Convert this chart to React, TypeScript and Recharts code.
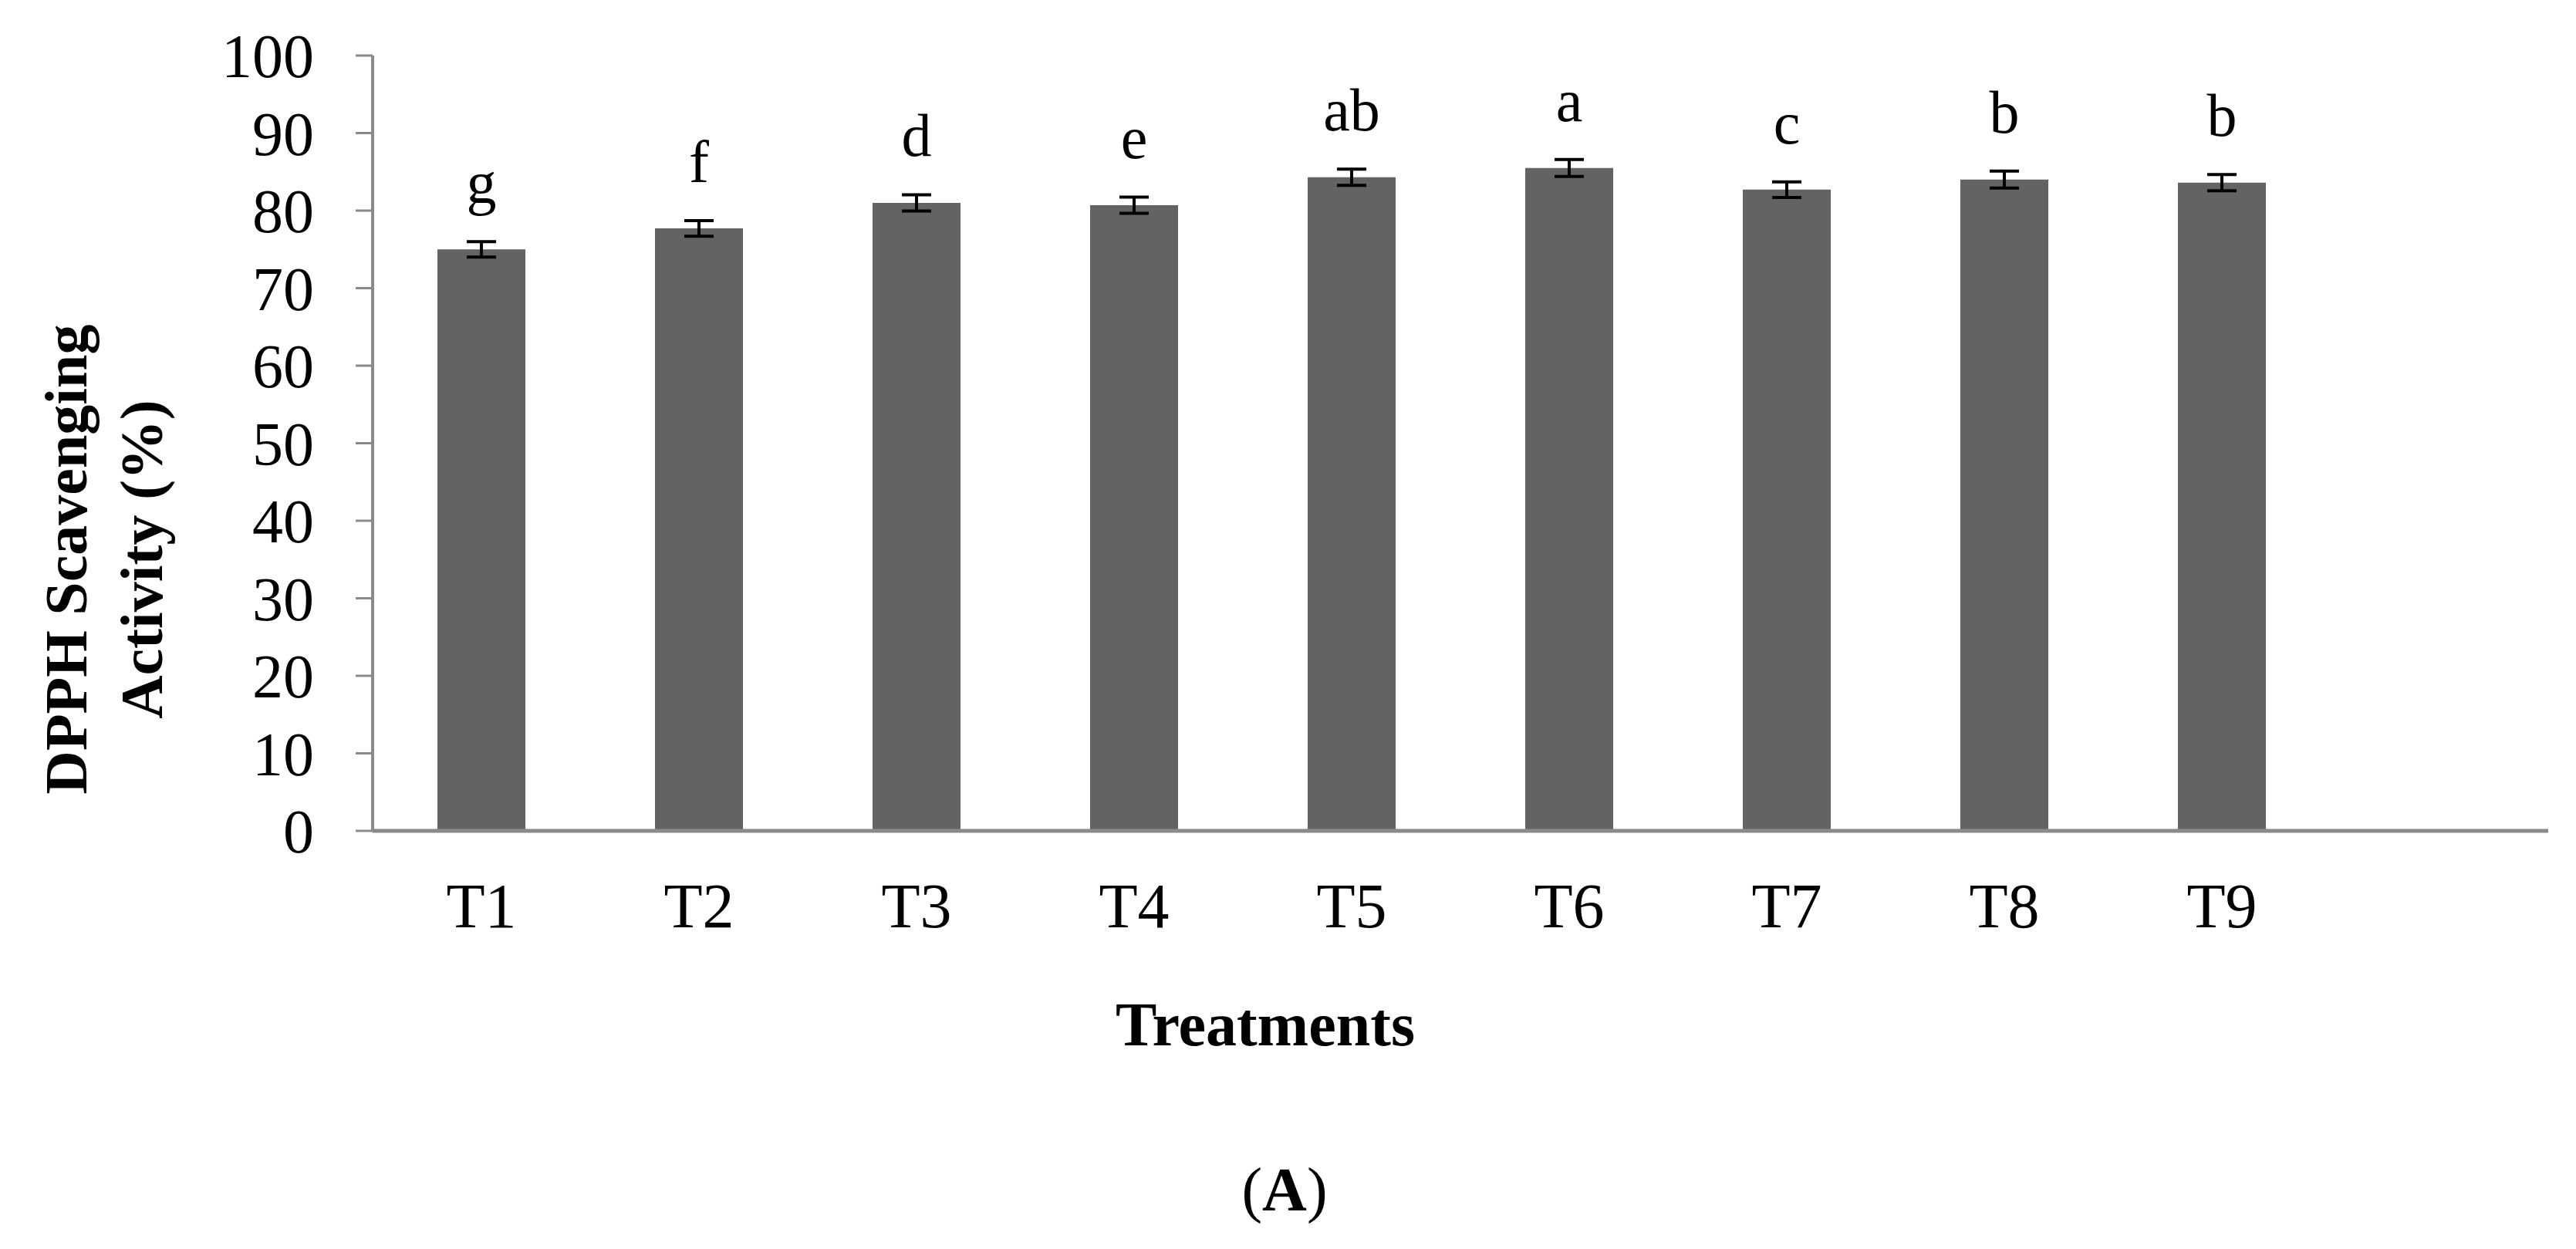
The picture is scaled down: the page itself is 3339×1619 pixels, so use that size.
import { Bar, BarChart, ErrorBar, LabelList, Label, XAxis, YAxis } from "recharts"

const treatments = ["T1", "T2", "T3", "T4", "T5", "T6", "T7", "T8", "T9"]
const activity = [75.0, 77.7, 81.0, 80.7, 84.3, 85.5, 82.7, 84.0, 83.6]
const stdError = [1.0, 1.0, 1.05, 1.05, 1.05, 1.1, 1.0, 1.1, 1.05]
const groupLetters = ["g", "f", "d", "e", "ab", "a", "c", "b", "b"]
const yTicks = [0, 10, 20, 30, 40, 50, 60, 70, 80, 90, 100]

const data = treatments.map((name, i) => ({
  name,
  activity: activity[i],
  err: stdError[i],
  letter: groupLetters[i],
}))

const FONT = '"Liberation Serif", "Times New Roman", serif'
const AXIS = "#8a8a8a"
const BAR = "#636363"

// letter sits a fixed gap above the top of the error bar
const LetterLabel = (props: any) => {
  const { x, y, width, height, value, index } = props
  const pxPerUnit = height / activity[index]
  const top = y - stdError[index] * pxPerUnit
  return (
    <text
      x={x + width / 2}
      y={top - 50}
      textAnchor="middle"
      fontFamily={FONT}
      fontSize={78}
      fill="#000"
    >
      {value}
    </text>
  )
}

const YTitle = () => (
  <g fontFamily={FONT} fontSize={78} fontWeight="bold" fill="#000">
    <text x={112} y={725} textAnchor="middle" transform="rotate(-90, 112, 725)">
      DPPH Scavenging
    </text>
    <text x={210} y={725} textAnchor="middle" transform="rotate(-90, 210, 725)">
      Activity (%)
    </text>
  </g>
)

const XTitle = () => (
  <g fontFamily={FONT} fill="#000">
    <text x={1640} y={1355} textAnchor="middle" fontSize={80} fontWeight="bold">
      Treatments
    </text>
    <text x={1665} y={1569} textAnchor="middle" fontSize={80}>
      (<tspan fontWeight="bold">A</tspan>)
    </text>
  </g>
)

const App = () => {
  return (
    <div style={{ position: "absolute", left: 0, top: 0, width: 3339, height: 1619, background: "#fff" }}>
      <BarChart
        width={3339}
        height={1619}
        data={data}
        margin={{ top: 72, right: 36, left: 283, bottom: 442 }}
      >
        <XAxis
          dataKey="name"
          height={100}
          padding={{ left: 0, right: 282 }}
          axisLine={{ stroke: AXIS, strokeWidth: 5 }}
          tickLine={false}
          tickSize={0}
          tickMargin={67}
          interval={0}
          tick={{ fill: "#000", fontSize: 82, fontFamily: FONT }}
        >
          <Label content={XTitle} />
        </XAxis>
        <YAxis
          domain={[0, 100]}
          ticks={yTicks}
          interval={0}
          width={200}
          axisLine={{ stroke: AXIS, strokeWidth: 4 }}
          tickLine={{ stroke: AXIS, strokeWidth: 3 }}
          tickSize={22}
          tickMargin={54}
          tick={{ fill: "#000", fontSize: 80, fontFamily: FONT }}
        >
          <Label content={YTitle} />
        </YAxis>
        <Bar dataKey="activity" fill={BAR} barSize={114} isAnimationActive={false}>
          <ErrorBar dataKey="err" width={19} stroke="#000" strokeWidth={4} direction="y" />
          <LabelList dataKey="letter" content={LetterLabel} />
        </Bar>
      </BarChart>
    </div>
  )
}

export default App
